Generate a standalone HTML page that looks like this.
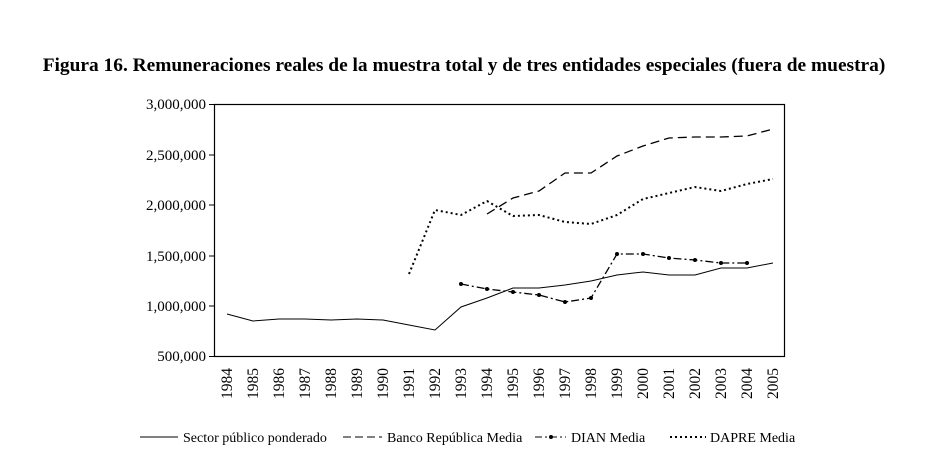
<!DOCTYPE html>
<html><head><meta charset="utf-8"><style>
body{margin:0;background:#fff;}
svg{display:block;font-family:"Liberation Serif",serif;}
</style></head><body>
<svg width="943" height="475" viewBox="0 0 943 475">
<text x="464" y="71" text-anchor="middle" font-size="19.4" font-weight="bold">Figura 16. Remuneraciones reales de la muestra total y de tres entidades especiales (fuera de muestra)</text>
<rect x="214.5" y="104.5" width="570" height="252" fill="none" stroke="#000" stroke-width="1.2"/>
<g font-size="15" text-anchor="end">
<text x="206" y="109">3,000,000</text>
<text x="206" y="160">2,500,000</text>
<text x="206" y="210">2,000,000</text>
<text x="206" y="261">1,500,000</text>
<text x="206" y="311">1,000,000</text>
<text x="206" y="361">500,000</text>
</g>
<g stroke="#000" stroke-width="1">
<line x1="209" y1="104.5" x2="214" y2="104.5"/><line x1="209" y1="155" x2="214" y2="155"/><line x1="209" y1="205" x2="214" y2="205"/><line x1="209" y1="256" x2="214" y2="256"/><line x1="209" y1="306" x2="214" y2="306"/><line x1="209" y1="356.5" x2="214" y2="356.5"/>
</g>
<g font-size="15.5" id="xl"></g>
<polyline fill="none" stroke="#000" stroke-width="1" points="227,314 253,321 279,319 305,319 331,320 357,319 383,320 409,325 435,330 461,307 487,298 513,288 539,288 565,285 591,281 617,275 643,272 669,275 695,275 721,268 747,268 773,263"/>
<polyline fill="none" stroke="#000" stroke-width="1.3" stroke-dasharray="9,5" points="487,214 513,198 539,191 565,173 591,173 617,156 643,146 669,138 695,137 721,137 747,136 773,129"/>
<polyline fill="none" stroke="#000" stroke-width="1.3" stroke-dasharray="8,3,2,3" points="461,284 487,289 513,292 539,295 565,302 591,298 617,254 643,254 669,258 695,260 721,263 747,263"/>
<g fill="#000"><circle cx="461" cy="284" r="2"/><circle cx="487" cy="289" r="2"/><circle cx="513" cy="292" r="2"/><circle cx="539" cy="295" r="2"/><circle cx="565" cy="302" r="2"/><circle cx="591" cy="298" r="2"/><circle cx="617" cy="254" r="2"/><circle cx="643" cy="254" r="2"/><circle cx="669" cy="258" r="2"/><circle cx="695" cy="260" r="2"/><circle cx="721" cy="263" r="2"/><circle cx="747" cy="263" r="2"/></g>
<polyline fill="none" stroke="#000" stroke-width="2" stroke-dasharray="2,3" points="409,274 435,210 461,215 487,201 513,216 539,215 565,222 591,224 617,215 643,199 669,193 695,187 721,191 747,184 773,179"/>
<g font-size="14">
<line x1="140" y1="437" x2="178" y2="437" stroke="#000"/><text x="183" y="442">Sector público ponderado</text>
<line x1="343" y1="437" x2="382" y2="437" stroke="#000" stroke-dasharray="8,4"/><text x="387" y="442">Banco República Media</text>
<line x1="535" y1="437" x2="566" y2="437" stroke="#000" stroke-dasharray="7,3,2,3"/><circle cx="551" cy="437" r="2"/><text x="571" y="442">DIAN Media</text>
<line x1="670" y1="437" x2="706" y2="437" stroke="#000" stroke-width="2" stroke-dasharray="2,3"/><text x="710" y="442">DAPRE Media</text>
</g>
</svg>
<script>
var g=document.getElementById('xl'),s='';
for(var i=0;i<22;i++){var x=227+26*i+5;s+='<text transform="translate('+x+',399) rotate(-90)">'+(1984+i)+'</text>';}
g.innerHTML=s;
</script>
</body></html>
